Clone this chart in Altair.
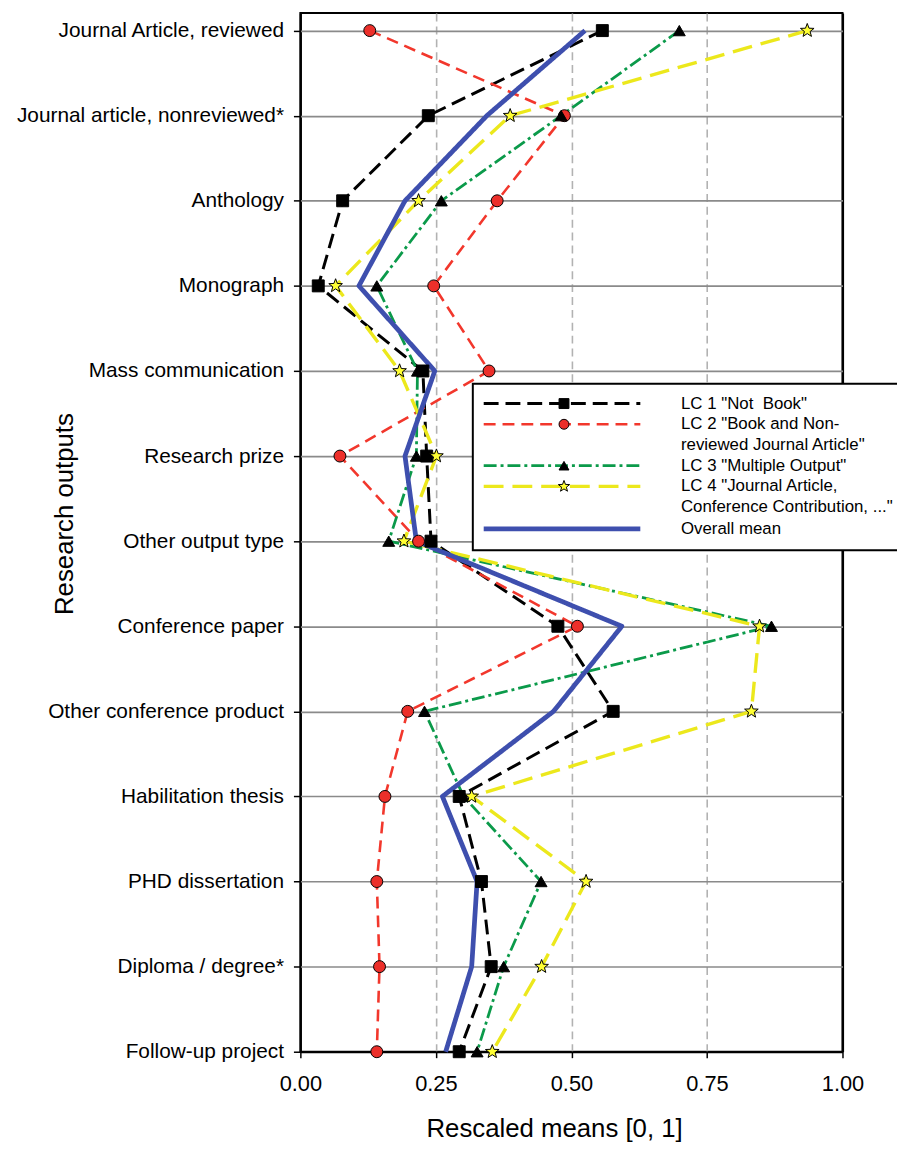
import json
import math
import altair as alt
import pandas as pd

# ---------------- data ----------------
categories = [
    "Journal Article, reviewed",
    "Journal article, nonreviewed*",
    "Anthology",
    "Monograph",
    "Mass communication",
    "Research prize",
    "Other output type",
    "Conference paper",
    "Other conference product",
    "Habilitation thesis",
    "PHD dissertation",
    "Diploma / degree*",
    "Follow-up project",
]

lc1 = [0.557, 0.236, 0.078, 0.033, 0.226, 0.233, 0.241, 0.475, 0.577, 0.293, 0.334, 0.352, 0.293]
lc2 = [0.128, 0.487, 0.363, 0.246, 0.348, 0.073, 0.218, 0.511, 0.198, 0.156, 0.141, 0.146, 0.141]
lc3 = [0.699, 0.481, 0.260, 0.141, 0.216, 0.214, 0.163, 0.869, 0.229, 0.301, 0.444, 0.375, 0.326]
lc4 = [0.935, 0.387, 0.218, 0.065, 0.183, 0.251, 0.191, 0.847, 0.832, 0.316, 0.527, 0.445, 0.354]
overall = [0.525, 0.344, 0.193, 0.108, 0.248, 0.193, 0.214, 0.593, 0.467, 0.262, 0.326, 0.316, 0.268]

x_ticks = [0.0, 0.25, 0.5, 0.75, 1.0]

# legend texts (continuation lines are separate, symbol-less entries)
L1 = 'LC 1 "Not\u00a0 Book"'
L2 = 'LC 2 "Book and Non-'
L2b = 'reviewed Journal Article"'
L3 = 'LC 3 "Multiple Output"'
L4 = 'LC 4 "Journal Article,'
L4b = 'Conference Contribution, ..."'
L5 = "Overall mean"

line_domain = [L1, L2, L2b, L3, L4, L4b, L5]
line_colors = ["#000000", "#f2372c", "transparent", "#0b9a4a", "#ece81c", "transparent", "#3e4fae"]
line_dashes = [[15, 7], [12, 7], [1, 0], [13, 4, 3, 4], [20, 9], [1, 0], [1, 0]]
line_widths = {L1: 3.0, L2: 2.6, L3: 2.8, L4: 3.4, L5: 4.8}

marker_domain = [L1, L2, L2b, L3, L4, L4b]

# 5-point star as a custom symbol path
star_pts = []
for k in range(10):
    ang = math.radians(-90 + 36 * k)
    r = 1.2 if k % 2 == 0 else 0.5
    star_pts.append(f"{r * math.cos(ang):.3f},{r * math.sin(ang):.3f}")
STAR = "M" + "L".join(star_pts) + "Z"

marker_shapes = ["square", "circle", "circle", "triangle-up", STAR, "circle"]
marker_fills = ["#000000", "#ec2f2a", "transparent", "#000000", "#ffff33", "transparent"]
marker_strokes = ["#000000", "#000000", "transparent", "#000000", "#000000", "transparent"]

series = [(L1, lc1), (L2, lc2), (L3, lc3), (L4, lc4), (L5, overall)]

n = len(categories)
rows = []
for name, vals in series:
    for i, (cat, v) in enumerate(zip(categories, vals)):
        rows.append({"series": name, "category": cat, "pos": n - 1 - i, "ord": i,
                     "value": v, "sw": line_widths[name]})
df = pd.DataFrame(rows)
pts_df = df[df["series"] != L5].copy()
pts_df["mk"] = pts_df["series"]

FONT = "Liberation Sans"
label_expr = f"{json.dumps(categories[::-1])}[datum.value]"

sw_expr = " : ".join(f"datum.value == {json.dumps(k)} ? {v}" for k, v in line_widths.items()) + " : 0"

x_edge = "datum.value == 0 || datum.value == 1"
y_edge = "datum.value == 0"

x_enc = alt.X(
    "value:Q",
    scale=alt.Scale(domain=[0, 1], nice=False, zero=False),
    axis=alt.Axis(
        values=x_ticks, format=".2f", title="Rescaled means [0, 1]",
        grid=True,
        gridDash={"condition": {"test": x_edge, "value": []}, "value": [8, 5]},
        gridColor={"condition": {"test": x_edge, "value": "black"}, "value": "#b2b2b2"},
        gridWidth={"condition": {"test": x_edge, "value": 2.2}, "value": 1.6},
        domain=False, ticks=True, tickSize=6, tickColor="black", tickWidth=1.5,
        labelFont=FONT, labelFontSize=22, labelPadding=16.5, labelColor="black",
        labelFlush=False, labelOverlap=False,
        titleFont=FONT, titleFontSize=26, titleFontWeight="normal", titleColor="black",
        titleX=256, titleY=86, titleBaseline="alphabetic", titleAlign="center",
    ),
)
y_enc = alt.Y(
    "pos:Q",
    scale=alt.Scale(domain=[0, 12.206], nice=False, zero=False),
    axis=alt.Axis(
        values=list(range(n)), labelExpr=label_expr, title="Research outputs",
        grid=True,
        gridColor={"condition": {"test": y_edge, "value": "black"}, "value": "#8a8a8a"},
        gridWidth={"condition": {"test": y_edge, "value": 2.2}, "value": 1.7},
        domain=False, ticks=True, tickSize=7, tickColor="black", tickWidth=1.5,
        labelFont=FONT, labelFontSize=21, labelPadding=10, labelColor="black",
        labelLimit=400, labelOverlap=False,
        titleFont=FONT, titleFontSize=26, titleFontWeight="normal", titleColor="black",
        titleX=-229.7, titleY=505, titleAngle=270, titleBaseline="alphabetic", titleAlign="center",
    ),
)

lines = alt.Chart(df).mark_line(strokeCap="butt", strokeJoin="round").encode(
    x=x_enc,
    y=y_enc,
    order=alt.Order("ord:Q"),
    color=alt.Color(
        "series:N",
        scale=alt.Scale(domain=line_domain, range=line_colors),
        legend=alt.Legend(
            orient="none", legendX=174, legendY=374, title=None, direction="vertical",
            symbolType="M-12,0H12", symbolSize=173.4, symbolOffset=70,
            symbolStrokeWidth={"expr": sw_expr},
            labelOffset=111.5, labelFont=FONT, labelFontSize=17, labelColor="black",
            labelLimit=500, rowPadding=2.9, padding=11.5,
            fillColor="white", strokeColor="black", zindex=1,
        ),
    ),
    strokeDash=alt.StrokeDash("series:N", scale=alt.Scale(domain=line_domain, range=line_dashes)),
    strokeWidth=alt.StrokeWidth("sw:Q", scale=None),
)

points = alt.Chart(pts_df).mark_point(filled=True, size=145, opacity=1, strokeWidth=1).encode(
    x=alt.X("value:Q"),
    y=alt.Y("pos:Q"),
    shape=alt.Shape(
        "mk:N",
        scale=alt.Scale(domain=marker_domain, range=marker_shapes),
        legend=alt.Legend(
            orient="none", legendX=174, legendY=374, title=None, direction="vertical",
            symbolOffset=72, labelOffset=111.5, labelFont=FONT, labelFontSize=17,
            labelOpacity=0, labelLimit=500, rowPadding=2.9, padding=11.5,
            symbolStrokeWidth=1, zindex=2,
        ),
    ),
    fill=alt.Fill("mk:N", scale=alt.Scale(domain=marker_domain, range=marker_fills)),
    stroke=alt.Stroke("mk:N", scale=alt.Scale(domain=marker_domain, range=marker_strokes)),
)

chart = (
    alt.layer(lines, points)
    .properties(
        width=547, height=1048,
        autosize=alt.AutoSizeParams(type="none"),
        padding={"left": 295, "top": 0, "right": 55, "bottom": 90},
        background="white",
    )
    .configure_view(stroke="black", strokeWidth=2)
    .configure_legend(strokeWidth=2)
)

chart.save("out.html", embed_options={"renderer": "svg", "actions": False})
